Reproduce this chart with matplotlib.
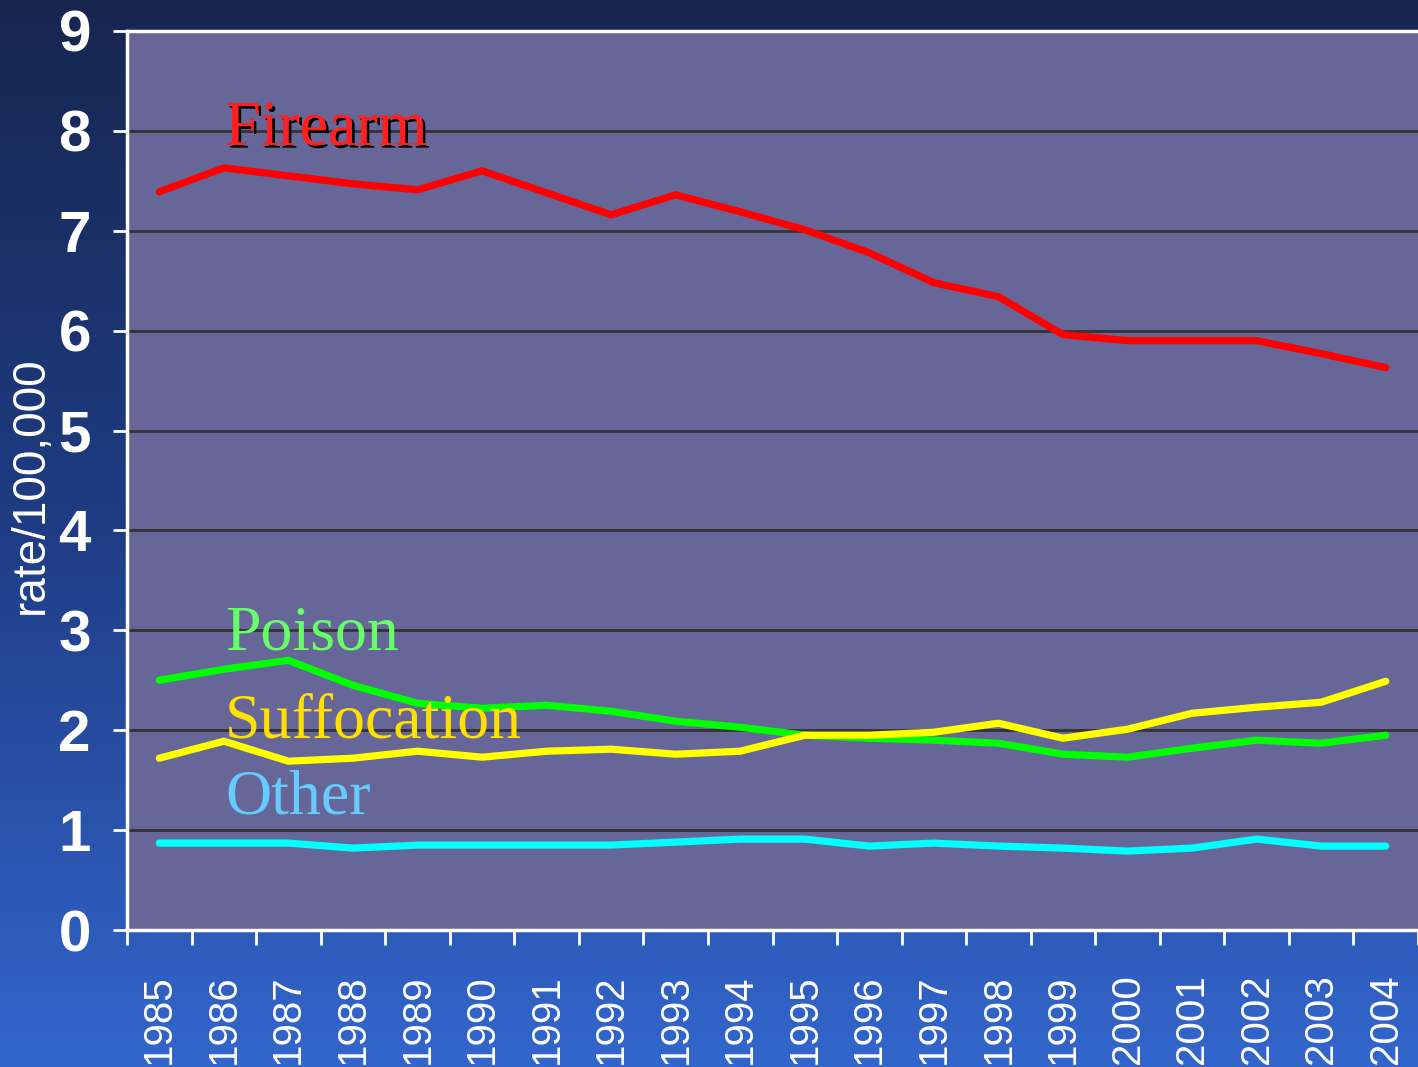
import matplotlib.pyplot as plt
import matplotlib.patheffects as pe
from matplotlib.colors import LinearSegmentedColormap
import numpy as np

years = [str(y) for y in range(1985, 2005)]
firearm = [7.39, 7.63, 7.55, 7.47, 7.41, 7.60, 7.38, 7.16, 7.36, 7.19,
           7.01, 6.78, 6.48, 6.34, 5.96, 5.90, 5.90, 5.90, 5.77, 5.63]
poison = [2.50, 2.61, 2.70, 2.45, 2.27, 2.22, 2.25, 2.19, 2.09, 2.03,
          1.95, 1.92, 1.90, 1.87, 1.76, 1.73, 1.82, 1.90, 1.87, 1.95]
suffocation = [1.72, 1.89, 1.69, 1.72, 1.79, 1.73, 1.79, 1.81, 1.76, 1.79,
               1.95, 1.95, 1.98, 2.07, 1.92, 2.01, 2.17, 2.23, 2.28, 2.49]
other = [0.87, 0.87, 0.87, 0.82, 0.85, 0.85, 0.85, 0.85, 0.88, 0.91,
         0.91, 0.84, 0.87, 0.84, 0.82, 0.79, 0.82, 0.91, 0.84, 0.84]

sans = ['Liberation Sans', 'DejaVu Sans']
serif = ['Liberation Serif', 'DejaVu Serif']

fig = plt.figure(figsize=(14.18, 10.67), dpi=100)

# background gradient, dark navy at top to blue at bottom
bg = fig.add_axes([0, 0, 1, 1])
grad = np.linspace(0, 1, 256).reshape(-1, 1)
cmap = LinearSegmentedColormap.from_list('bg', ['#16264f', '#1f3d85', '#3366cc'])
bg.imshow(grad, aspect='auto', cmap=cmap, extent=[0, 1, 0, 1])
bg.axis('off')

ax = fig.add_axes([127 / 1418, 137 / 1067, 1 - 127 / 1418, 899 / 1067])
ax.set_facecolor('#666699')
x = np.arange(len(years))

lw = 5.2
ax.plot(x, firearm, color='#ff0000', lw=lw, solid_capstyle='round', zorder=3)
ax.plot(x, poison, color='#00ff00', lw=lw, solid_capstyle='round', zorder=3)
ax.plot(x, suffocation, color='#ffff00', lw=lw, solid_capstyle='round', zorder=3)
ax.plot(x, other, color='#00ffff', lw=lw, solid_capstyle='round', zorder=3)

ax.text(1.02, 7.86, 'Firearm', color='#ff2020', fontsize=46, family=serif,
        va='baseline', zorder=4,
        path_effects=[pe.withSimplePatchShadow(offset=(2, -2), shadow_rgbFace='black', alpha=1.0),
                      pe.Normal()])
ax.text(1.02, 2.81, 'Poison', color='#66ff66', fontsize=46, family=serif,
        va='baseline', zorder=4)
ax.text(1.02, 1.93, 'Suffocation', color='#ffe000', fontsize=46, family=serif,
        va='baseline', zorder=4)
ax.text(1.02, 1.17, 'Other', color='#66ccff', fontsize=46, family=serif,
        va='baseline', zorder=4)

ax.set_xlim(-0.5, len(years) - 0.5)
ax.set_ylim(0, 9)
ax.set_yticks(range(0, 10))
ax.grid(axis='y', color='#333333', lw=2, zorder=1)
ax.set_axisbelow(True)

for s in ['left', 'bottom', 'top']:
    ax.spines[s].set_color('white')
    ax.spines[s].set_linewidth(2.5)
ax.spines['right'].set_visible(False)

ax.tick_params(axis='y', colors='white', length=10, width=2, pad=16, labelsize=42)
for lab in ax.get_yticklabels():
    lab.set_family(sans)
    lab.set_fontweight('bold')

ax.set_xticks(x)
ax.set_xticklabels(years, rotation=90, va='top',
                   family=sans, fontsize=29, color='white')
ax.tick_params(axis='x', which='major', length=0, pad=32)
ax.set_xticks(np.arange(-0.5, len(years), 1.0), minor=True)
ax.tick_params(axis='x', which='minor', colors='white', length=11, width=2)

fig.text(0.022, 0.5455, 'rate/100,000', rotation=90, color='white',
         fontsize=33, family=sans, ha='center', va='center')

fig.savefig('out.png', dpi=100, facecolor=fig.get_facecolor())
